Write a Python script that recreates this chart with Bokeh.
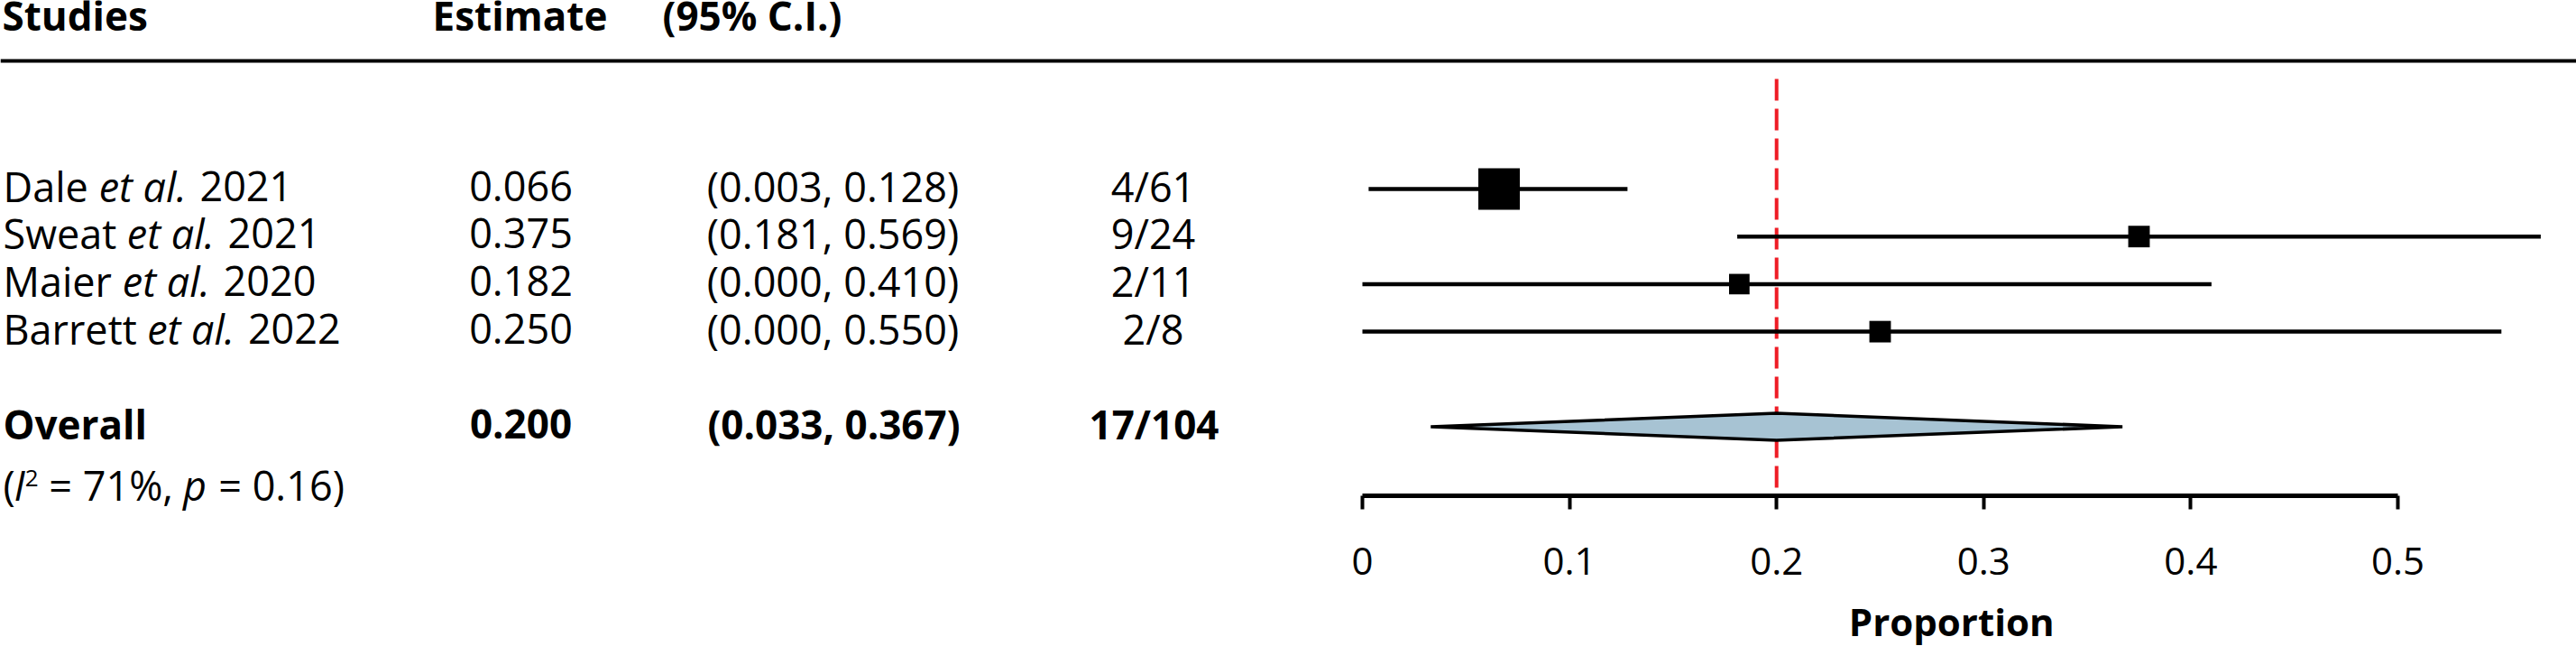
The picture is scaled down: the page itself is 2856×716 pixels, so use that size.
from bokeh.plotting import figure
from bokeh.models import Range1d, FixedTicker, ColumnDataSource, Span
from bokeh.embed import file_html
from bokeh.resources import INLINE
from bokeh.core.properties import value

# ---------------- data ----------------
authors = ["Dale", "Sweat", "Maier", "Barrett"]
years = ["2021", "2021", "2020", "2022"]
estimate = [0.066, 0.375, 0.182, 0.250]
ci_low = [0.003, 0.181, 0.000, 0.000]
ci_high = [0.128, 0.569, 0.410, 0.550]
events = [4, 9, 2, 2]
totals = [61, 24, 11, 8]
weights = [39.5, 20.5, 19.5, 20.5]          # % weight (box size)
overall_est = 0.200
overall_low = 0.033
overall_high = 0.367
i2_percent = 71
p_value = 0.16
x_ticks = [0, 0.1, 0.2, 0.3, 0.4, 0.5]
tick_labels = ["0", "0.1", "0.2", "0.3", "0.4", "0.5"]
headers = ["Studies", "Estimate", "(95% C.I.)"]
x_title = "Proportion"

# ---------------- layout ----------------
FONT_NAME = "Open Sans"
FONT = value(FONT_NAME)
W, H = 2856, 716
X0_REF, SCALE = 1510.0, 2296.0      # px of value 0, px per unit
AXIS_Y = 549                        # px of the axis line


def refx(px):
    return (px - X0_REF) / SCALE


REG = {' ': 532, 'D': 1493, 'a': 1139, 'l': 518, 'e': 1149, 'S': 1100, 'w': 1604,
       't': 723, 'M': 1849, 'i': 518, 'r': 836, 'B': 1327, '(': 545, ')': 545,
       '=': 1171, '%': 1688, ',': 502, '.': 545}
for d in "0123456789":
    REG[d] = 1171
ITA = {' ': 532, 'e': 1057, 't': 686, 'a': 1255, 'l': 532, '.': 492, 'I': 557, 'p': 1255}


def tw(s, table, size):
    return sum(table.get(c, 1100) for c in s) / 2048.0 * size


FS = 45          # regular text
FB = 44          # bold text
CORR = 0.41      # baseline correction (em) for Bokeh's alphabetic placement
row0, step = 209.0, 52.7
row_y = [row0 + step * i for i in range(len(authors))]
overall_y = row0 + step * (len(authors) + 1)
base_off = 15

p = figure(frame_width=W, frame_height=H, output_backend="svg", toolbar_location=None,
           x_range=Range1d(refx(0), refx(W)), y_range=Range1d(H, 0),
           y_axis_location=None, min_border=0)
p.grid.visible = False
p.outline_line_color = None
p.background_fill_color = "white"
p.border_fill_color = "white"

# header rule
p.add_layout(Span(location=67, dimension="width", line_color="black", line_width=4))

# ---------------- forest marks ----------------
p.segment(x0=[overall_est], x1=[overall_est], y0=[87], y1=[AXIS_Y],
          line_color="#ee1c25", line_width=4, line_dash="24 9")

src = ColumnDataSource(dict(
    est=estimate, lo=ci_low, hi=ci_high, y=row_y,
    size=[w * 46.0 / max(weights) for w in weights],
))
p.segment(x0="lo", x1="hi", y0="y", y1="y", source=src, line_color="black", line_width=4.5)
p.scatter(x="est", y="y", size="size", marker="square", source=src,
          fill_color="black", line_color="black", line_width=0)

half = 15
p.patch(x=[overall_low, overall_est, overall_high, overall_est],
        y=[overall_y, overall_y - half, overall_y, overall_y + half],
        fill_color="#a7c3d3", line_color="black", line_width=3.5)

# ---------------- table text ----------------
hdr_base = 35 - CORR * FB
hd = dict(text_font=FONT, text_font_size=f"{FB}px", text_font_style="bold",
          text_baseline="alphabetic", text_color="black")
p.text(x=[refx(2)], y=[hdr_base], text=[headers[0]], text_align="left", **hd)
p.text(x=[refx(576)], y=[hdr_base], text=[headers[1]], text_align="center", **hd)
p.text(x=[refx(734)], y=[hdr_base], text=[headers[2]], text_align="left", **hd)

off2 = [tw(a + " ", REG, FS) for a in authors]
off3 = [o + tw("et al. ", ITA, FS) for o in off2]
tsrc = ColumnDataSource(dict(
    y=[y + base_off - CORR * FS for y in row_y],
    s1=authors, s2=["et al."] * len(authors), s3=years, o2=off2, o3=off3,
    est=[f"{v:.3f}" for v in estimate],
    ci=[f"({a:.3f}, {b:.3f})" for a, b in zip(ci_low, ci_high)],
    cnt=[f"{e}/{n}" for e, n in zip(events, totals)],
))
common = dict(source=tsrc, text_font=FONT, text_font_size=f"{FS}px", text_baseline="alphabetic",
              text_color="black")
p.text(x=refx(3), y="y", text="s1", text_align="left", **common)
p.text(x=refx(3), y="y", text="s2", x_offset="o2", text_align="left", text_font_style="italic", **common)
p.text(x=refx(3), y="y", text="s3", x_offset="o3", text_align="left", **common)
p.text(x=refx(577), y="y", text="est", text_align="center", **common)
p.text(x=refx(923), y="y", text="ci", text_align="center", **common)
p.text(x=refx(1278), y="y", text="cnt", text_align="center", **common)

oy = overall_y + base_off - CORR * FB
ov = dict(text_font=FONT, text_font_size=f"{FB}px", text_font_style="bold",
          text_baseline="alphabetic", text_color="black")
p.text(x=[refx(3)], y=[oy], text=["Overall"], text_align="left", **ov)
p.text(x=[refx(577)], y=[oy], text=[f"{overall_est:.3f}"], text_align="center", **ov)
p.text(x=[refx(924)], y=[oy], text=[f"({overall_low:.3f}, {overall_high:.3f})"], text_align="center", **ov)
p.text(x=[refx(1279)], y=[oy], text=[f"{sum(events)}/{sum(totals)}"], text_align="center", **ov)

# heterogeneity line, built from styled pieces
het_base = 555
pieces = [("(", "normal", FS, 0), ("I", "italic", FS, 0), ("2", "normal", 26, 15),
          (f" = {i2_percent}%, ", "normal", FS, 0), ("p", "italic", FS, 0),
          (f" = {p_value:.2f})", "normal", FS, 0)]
xo = 0.0
for txt, style, size, rise in pieces:
    table = ITA if style == "italic" else REG
    lead = txt[:len(txt) - len(txt.lstrip())]
    p.text(x=[refx(3)], y=[het_base - rise - CORR * size], text=[txt.strip()],
           x_offset=xo + tw(lead, table, size),
           text_font=FONT, text_font_size=f"{size}px", text_font_style=style,
           text_baseline="alphabetic", text_align="left", text_color="black")
    xo += tw(txt, table, size)

# ---------------- axis (fixed at the bottom of the forest) ----------------
ax = p.xaxis[0]
ax.fixed_location = AXIS_Y
ax.bounds = (x_ticks[0], x_ticks[-1])
ax.ticker = FixedTicker(ticks=x_ticks)
ax.major_label_overrides = {tk: lb for tk, lb in zip(x_ticks, tick_labels)}
ax.minor_tick_line_color = None
ax.axis_line_width = 5
ax.axis_line_color = "black"
ax.major_tick_line_width = 4
ax.major_tick_line_color = "black"
ax.major_tick_in = 0
ax.major_tick_out = 15
ax.major_label_standoff = 42
ax.major_label_text_font = FONT_NAME
ax.major_label_text_font_size = "42px"
ax.major_label_text_color = "black"

p.text(x=[(0 + max(ci_high)) / 2], y=[705 - CORR * 42], text=[x_title], text_font=FONT,
       text_font_size="42px", text_font_style="bold", text_align="center",
       text_baseline="alphabetic", text_color="black")

open("out.html", "w").write(file_html(p, INLINE))
